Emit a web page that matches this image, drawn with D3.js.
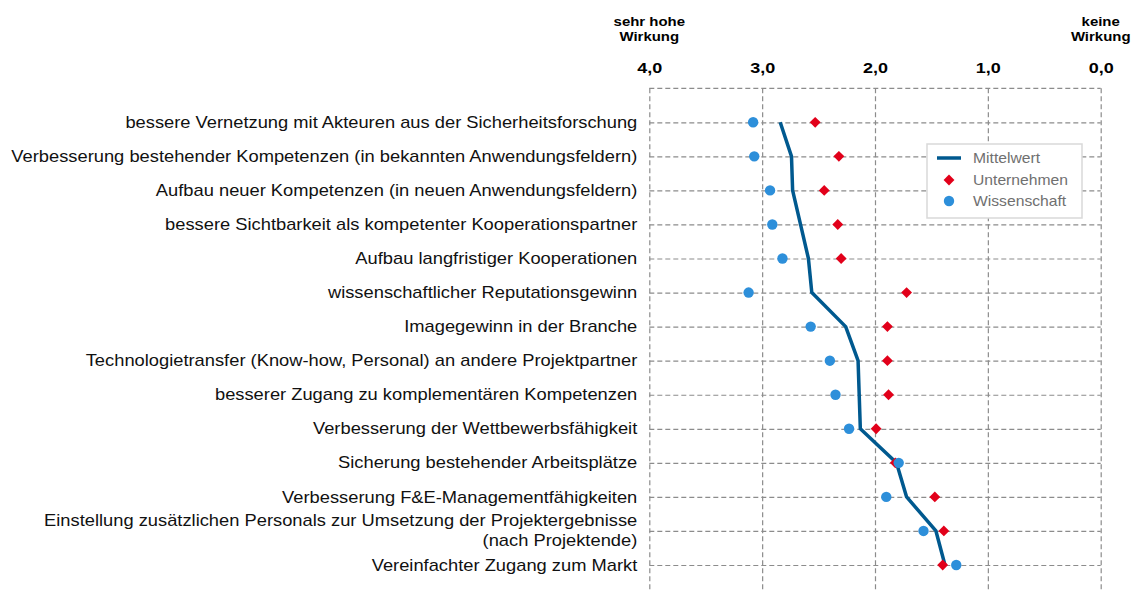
<!DOCTYPE html>
<html>
<head>
<meta charset="utf-8">
<script src="https://cdn.jsdelivr.net/npm/d3@7"></script>
<style>
  body { margin: 0; background: #fff; }
  svg { display: block; font-family: "Liberation Sans", Arial, sans-serif; }
</style>
</head>
<body>
<script>
var w = 1138;
var h = 592;

var categories = [
  "bessere Vernetzung mit Akteuren aus der Sicherheitsforschung",
  "Verbesserung bestehender Kompetenzen (in bekannten Anwendungsfeldern)",
  "Aufbau neuer Kompetenzen (in neuen Anwendungsfeldern)",
  "bessere Sichtbarkeit als kompetenter Kooperationspartner",
  "Aufbau langfristiger Kooperationen",
  "wissenschaftlicher Reputationsgewinn",
  "Imagegewinn in der Branche",
  "Technologietransfer (Know-how, Personal) an andere Projektpartner",
  "besserer Zugang zu komplementären Kompetenzen",
  "Verbesserung der Wettbewerbsfähigkeit",
  "Sicherung bestehender Arbeitsplätze",
  "Verbesserung F&E-Managementfähigkeiten",
  "Einstellung zusätzlichen Personals zur Umsetzung der Projektergebnisse\n(nach Projektende)",
  "Vereinfachter Zugang zum Markt"
];
var mittelwert = [2.84, 2.74, 2.73, 2.66, 2.59, 2.56, 2.26, 2.15, 2.14, 2.13, 1.81, 1.72, 1.46, 1.38];
var unternehmen = [2.53, 2.32, 2.45, 2.33, 2.30, 1.72, 1.89, 1.89, 1.88, 1.99, 1.82, 1.47, 1.39, 1.40];
var wissenschaft = [3.08, 3.07, 2.93, 2.91, 2.82, 3.12, 2.57, 2.40, 2.35, 2.23, 1.79, 1.90, 1.57, 1.28];
var tickValues = [4, 3, 2, 1, 0];
var seriesNames = ["Mittelwert", "Unternehmen", "Wissenschaft"];

var plotLeft = 649.3, plotRight = 1100.7, plotTop = 88.3, plotBottom = 600;
var lineColor = "#00598f", redColor = "#e2001a", blueColor = "#2d8fda";
var gridColor = "#8c8c8c";

var x = d3.scaleLinear().domain([4, 0]).range([plotLeft, plotRight]);
var y = d3.scalePoint().domain(d3.range(categories.length)).range([122.3, 565]);

var svg = d3.select("body").append("svg").attr("width", w).attr("height", h);

// top axis with vertical gridlines
var xAxis = svg.append("g")
  .attr("transform", "translate(0," + plotTop + ")")
  .call(d3.axisTop(x).tickValues(tickValues)
    .tickSize(-(plotBottom - plotTop)).tickPadding(15)
    .tickFormat(function (d) { return d3.format(".1f")(d).replace(".", ","); }));
xAxis.select(".domain").remove();
xAxis.selectAll("line")
  .attr("stroke", gridColor).attr("stroke-width", 1.2).attr("stroke-dasharray", "5,3");
xAxis.selectAll("text")
  .attr("fill", "#000").attr("font-size", 15).attr("font-weight", "bold")
  .attr("transform", "scale(1.2,1)");

// left axis with horizontal gridlines
var yAxis = svg.append("g")
  .attr("transform", "translate(" + plotLeft + ",0)")
  .call(d3.axisLeft(y).tickSize(-(plotRight - plotLeft)).tickPadding(10.5)
    .tickFormat(function (i) { return categories[i]; }));
yAxis.select(".domain").remove();
yAxis.selectAll("line")
  .attr("stroke", gridColor).attr("stroke-width", 1.2).attr("stroke-dasharray", "5,3");
yAxis.selectAll("text")
  .attr("fill", "#111").attr("font-size", 16)
  .attr("transform", "scale(1.145,1)")
  .each(function (d) {
    var parts = categories[d].split("\n");
    if (parts.length < 2) return;
    var t = d3.select(this).text(null);
    parts.forEach(function (p, k) {
      t.append("tspan").attr("x", t.attr("x"))
        .attr("dy", k === 0 ? "-0.32em" : "1.2em").text(p);
    });
  });

// top border
svg.append("line")
  .attr("x1", plotLeft).attr("x2", plotRight).attr("y1", plotTop).attr("y2", plotTop)
  .attr("stroke", gridColor).attr("stroke-width", 1.2).attr("stroke-dasharray", "5,3");

// header labels
function header(lines, xv) {
  var t = svg.append("text")
    .attr("transform", "translate(" + x(xv) + ",26) scale(1.15,1)")
    .attr("text-anchor", "middle").attr("font-size", 13).attr("font-weight", "bold");
  lines.forEach(function (l, k) {
    t.append("tspan").attr("x", 0).attr("dy", k === 0 ? 0 : 14.7).text(l);
  });
}
header(["sehr hohe", "Wirkung"], 4);
header(["keine", "Wirkung"], 0);

// mean line
svg.append("path")
  .datum(mittelwert)
  .attr("d", d3.line().x(function (d) { return x(d); }).y(function (d, i) { return y(i); }))
  .attr("fill", "none").attr("stroke", lineColor).attr("stroke-width", 3.5)
  .attr("stroke-linejoin", "round");

var diamond = d3.symbol().type(d3.symbolDiamond2).size(75);

svg.selectAll(".red")
  .data(unternehmen).enter().append("path")
  .attr("class", "red")
  .attr("d", diamond)
  .attr("transform", function (d, i) { return "translate(" + x(d) + "," + y(i) + ")"; })
  .attr("fill", redColor);

svg.selectAll(".blue")
  .data(wissenschaft).enter().append("circle")
  .attr("class", "blue")
  .attr("cx", function (d) { return x(d); })
  .attr("cy", function (d, i) { return y(i); })
  .attr("r", 5.2)
  .attr("fill", blueColor);

// legend
var lg = svg.append("g").attr("transform", "translate(927,144)");
lg.append("rect").attr("width", 155).attr("height", 74)
  .attr("fill", "#fff").attr("stroke", "#d9d9d9").attr("stroke-width", 1.5);
lg.append("line").attr("x1", 10).attr("x2", 34).attr("y1", 14).attr("y2", 14)
  .attr("stroke", lineColor).attr("stroke-width", 3.5);
lg.append("path").attr("d", diamond)
  .attr("transform", "translate(22,36)").attr("fill", redColor);
lg.append("circle").attr("cx", 22).attr("cy", 57).attr("r", 5.2).attr("fill", blueColor);
lg.selectAll(".lt")
  .data(seriesNames).enter().append("text")
  .attr("class", "lt")
  .attr("transform", function (d, i) { return "translate(46," + (19 + i * 21.5) + ") scale(1.12,1)"; })
  .attr("font-size", 14).attr("fill", "#707070")
  .text(function (d) { return d; });
</script>
</body>
</html>
